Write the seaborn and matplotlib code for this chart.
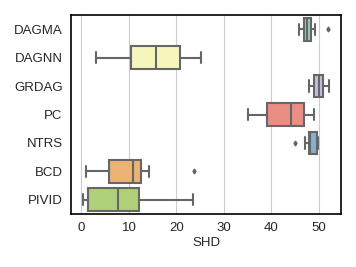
import numpy as np
import pandas as pd
import matplotlib
matplotlib.use("Agg")
import matplotlib.pyplot as plt
import seaborn as sns

methods = ["DAGMA", "DAGNN", "GRDAG", "PC", "NTRS", "BCD", "PIVID"]
shd_dagma = [45.9, 46.5, 46.9, 47.3, 47.6, 47.9, 48.3, 49.3, 51.9]
shd_dagnn = [3.0, 7.0, 10.5, 13.0, 15.7, 18.0, 20.8, 23.0, 25.1]
shd_grdag = [48.0, 48.6, 49.1, 49.6, 50.0, 50.4, 50.9, 51.5, 52.1]
shd_pc = [35.0, 37.0, 39.0, 42.0, 44.1, 45.5, 46.8, 48.0, 49.1]
shd_ntrs = [45.1, 47.1, 47.9, 48.1, 48.2, 49.0, 49.7, 49.8, 49.8]
shd_bcd = [1.0, 4.0, 5.9, 9.0, 10.9, 12.0, 12.5, 14.3, 23.8]
shd_pivid = [0.4, 1.0, 1.3, 4.0, 7.7, 10.0, 12.2, 18.0, 23.5]

series = [shd_dagma, shd_dagnn, shd_grdag, shd_pc, shd_ntrs, shd_bcd, shd_pivid]
df = pd.DataFrame({
    "method": np.repeat(methods, [len(s) for s in series]),
    "SHD": np.concatenate(series),
})

sns.set_theme(style="whitegrid")
plt.rcParams["font.family"] = ["Liberation Sans", "DejaVu Sans"]

fig = plt.figure(figsize=(3.56, 2.67), dpi=100)
ax = fig.add_axes([71/356, 1 - 214/267, 270/356, 199/267])

gray = "#666666"
sns.boxplot(data=df, x="SHD", y="method", hue="method", order=methods,
            palette="Set3", saturation=0.75, legend=False, ax=ax,
            width=0.8, linewidth=1.5, linecolor=gray,
            flierprops=dict(marker="d", markersize=2.5, markerfacecolor=gray,
                            markeredgecolor=gray))

ax.set_xlim(-2.2, 54.7)
ax.set_xticks([0, 10, 20, 30, 40, 50])
ax.set_ylabel("")
ax.set_xlabel("SHD", fontsize=9.5, labelpad=2)
ax.tick_params(axis="both", labelsize=9.5, length=0)
ax.tick_params(axis="x", pad=6)
ax.tick_params(axis="y", pad=6)
ax.grid(axis="y", visible=False)
ax.grid(axis="x", color="#cccccc", linewidth=0.8)
for sp in ax.spines.values():
    sp.set_color("black")
    sp.set_linewidth(1.2)

fig.savefig("out.png", dpi=100)
